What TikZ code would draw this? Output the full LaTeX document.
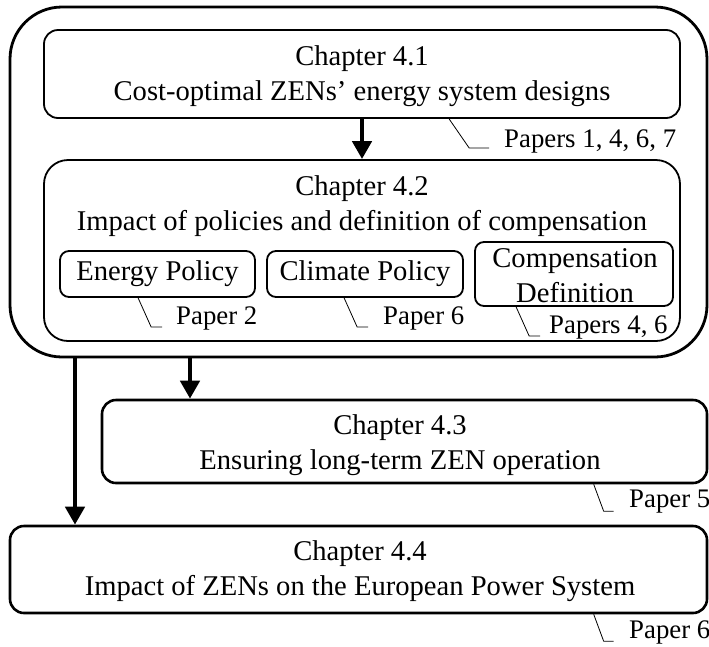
\documentclass[tikz,border=0pt]{standalone}
\usepackage{fontspec}
\setmainfont{Liberation Serif}
\usetikzlibrary{arrows.meta,calc}
\begin{document}
\begin{tikzpicture}[x=1pt,y=-1pt,
  bigbox/.style={draw,line width=2.6pt,rounded corners=14pt,inner sep=0pt},
  midbox/.style={draw,line width=1.8pt,rounded corners=14pt,inner sep=0pt},
  subbox/.style={draw,line width=1.8pt,rounded corners=9pt,inner sep=0pt},
  maintext/.style={font=\fontsize{28.6}{35}\selectfont,align=center,inner sep=0pt},
  papertext/.style={font=\fontsize{26.8}{30}\selectfont,anchor=west,inner sep=0pt},
  callout/.style={draw,line width=0.8pt},
  bigarrow/.style={line width=4.5pt,-{Triangle[width=19pt,length=18pt]}}
]
\useasboundingbox (0,0) rectangle (709,646);
% outer frame
\node[draw,line width=2.8pt,rounded corners=52pt,minimum width=697pt,minimum height=350pt,inner sep=0pt] (outer) at (358.5,182) {};
% chapter 4.1
\node[midbox,minimum width=636pt,minimum height=88pt] (box41) at (362,74) {};
\node[maintext] (t41) at (362,76) {Chapter 4.1\\Cost-optimal ZENs’ energy system designs};
% chapter 4.2
\node[midbox,minimum width=636pt,minimum height=181pt,rounded corners=24pt] (box42) at (362,250.5) {};
\node[maintext] (t42) at (362,206) {Chapter 4.2\\Impact of policies and definition of compensation};
\node[subbox,minimum width=195pt,minimum height=46pt] (ep) at (157.5,274) {};
\node[maintext] (tep) at (157.5,274) {Energy Policy};
\node[subbox,minimum width=196pt,minimum height=46pt] (cp) at (365,274) {};
\node[maintext] (tcp) at (365,274) {Climate Policy};
\node[subbox,minimum width=198pt,minimum height=64pt] (cd) at (574,274) {};
\node[maintext] (tcd) at (575,276) {Compensation\\Definition};
% chapter 4.3
\node[bigbox,minimum width=605pt,minimum height=83pt] (box43) at (404.5,441.5) {};
\node[maintext] (t43) at (400,445) {Chapter 4.3\\Ensuring long-term ZEN operation};
% chapter 4.4
\node[bigbox,minimum width=697pt,minimum height=87pt] (box44) at (358.5,569.5) {};
\node[maintext] (t44) at (360,571) {Chapter 4.4\\Impact of ZENs on the European Power System};
% arrows
\coordinate (a43) at (190,0);
\coordinate (a44) at (75,0);
\draw[bigarrow] (box41.south) -- (box42.north);
\draw[bigarrow] (outer.south -| a43) -- (box43.north -| a43);
\draw[bigarrow] (outer.south -| a44) -- (box44.north -| a44);
% paper labels
\node[papertext] (p41) at (504,141) {Papers 1, 4, 6, 7};
\draw[callout] ($(box41.south west)+(406,0)$) -- ++(20,29) -- ++(20,0);
\node[papertext] (pep) at (176,318) {Paper 2};
\draw[callout] ($(ep.south west)+(79,0)$) -- ++(13,29) -- ++(11,0);
\node[papertext] (pcp) at (383,318) {Paper 6};
\draw[callout] ($(cp.south west)+(78,0)$) -- ++(13,29) -- ++(11,0);
\node[papertext] (pcd) at (549,327) {Papers 4, 6};
\draw[callout] ($(cd.south west)+(42,0)$) -- ++(13,29) -- ++(11,0);
\node[papertext] (p43) at (629,502) {Paper 5};
\draw[callout] ($(box43.south west)+(493,0)$) -- ++(10,27) -- ++(10,0);
\node[papertext] (p44) at (629,632) {Paper 6};
\draw[callout] ($(box44.south west)+(585,0)$) -- ++(10,27) -- ++(10,0);
\end{tikzpicture}
\end{document}
